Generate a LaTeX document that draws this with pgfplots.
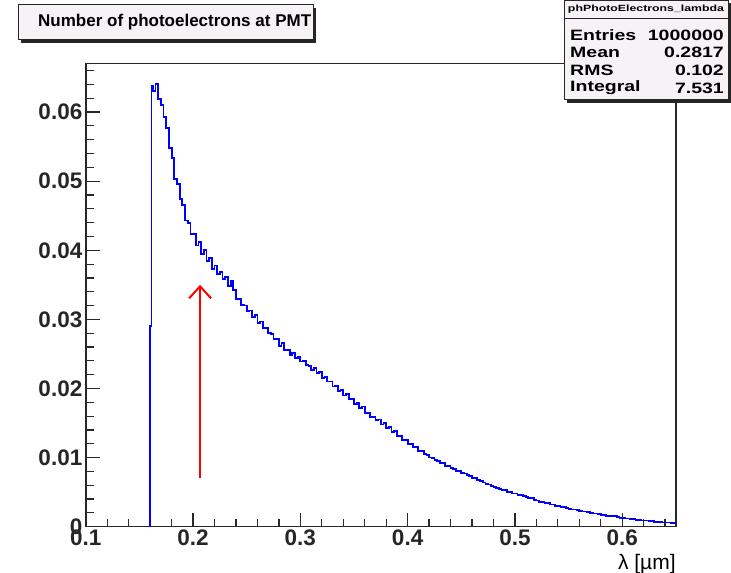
\documentclass[border=0pt]{standalone}
\usepackage{fontspec}
\setmainfont{Liberation Sans}
\usepackage{graphicx}
\usepackage{pgfplots}
\pgfplotsset{compat=1.18}
\usetikzlibrary{arrows.meta}
\definecolor{boxfill}{RGB}{246,242,246}
\definecolor{framecol}{RGB}{40,40,40}
\begin{document}
\begin{tikzpicture}[x=1pt,y=1pt]
\useasboundingbox (0,0) rectangle (731,573);
\begin{axis}[
  at={(80,67)}, anchor=south west,
  scale only axis, width=590pt, height=463pt,
  xmin=0.1, xmax=0.65, ymin=0, ymax=0.067,
  xtick={0.1,0.2,0.3,0.4,0.5,0.6},
  ytick={0,0.01,0.02,0.03,0.04,0.05,0.06},
  minor xtick={0.12,0.14,0.16,0.18,0.22,0.24,0.26,0.28,0.32,0.34,0.36,0.38,0.42,0.44,0.46,0.48,0.52,0.54,0.56,0.58,0.62,0.64},
  minor ytick={0.002,0.004,0.006,0.008,0.012,0.014,0.016,0.018,0.022,0.024,0.026,0.028,0.032,0.034,0.036,0.038,0.042,0.044,0.046,0.048,0.052,0.054,0.056,0.058,0.062,0.064,0.066},
  tick align=inside, xtick pos=bottom, ytick pos=left,
  major tick length=14pt, minor tick length=8pt,
  axis line style={line width=1.4pt, framecol},
  every tick/.style={line width=1.2pt, framecol},
  /pgf/number format/assume math mode=true,
  tick label style={font=\fontsize{22.5}{22.5}\selectfont\bfseries, text=black!85},
  scaled y ticks=false, scaled x ticks=false,
  yticklabel style={/pgf/number format/fixed, /pgf/number format/precision=2},
  xticklabel style={/pgf/number format/fixed, /pgf/number format/precision=1},
  xlabel={λ [µm]},
  xlabel style={font=\fontsize{21}{21}\selectfont, at={(rel axis cs:1,0)}, anchor=north east, yshift=-27pt, inner sep=0pt},
]
\addplot[const plot, blue, line width=1.8pt] table {
0.1600 0
0.1600 0.0290
0.1612 0.0638
0.1625 0.0630
0.1650 0.0641
0.1675 0.0619
0.1700 0.0610
0.1725 0.0593
0.1750 0.0577
0.1775 0.0548
0.1800 0.0533
0.1825 0.0503
0.1850 0.0496
0.1875 0.0474
0.1900 0.0466
0.1925 0.0443
0.1950 0.0440
0.1975 0.0424
0.2000 0.0424
0.2025 0.0407
0.2050 0.0412
0.2075 0.0395
0.2100 0.0400
0.2125 0.0384
0.2150 0.0389
0.2175 0.0373
0.2200 0.0378
0.2225 0.0366
0.2250 0.0368
0.2275 0.0358
0.2300 0.0361
0.2325 0.0348
0.2350 0.0355
0.2375 0.0343
0.2400 0.0329
0.2425 0.0330
0.2450 0.0321
0.2475 0.0320
0.2500 0.0312
0.2525 0.0313
0.2550 0.0304
0.2575 0.0306
0.2600 0.0295
0.2625 0.0297
0.2650 0.0288
0.2675 0.0287
0.2700 0.0280
0.2725 0.0279
0.2750 0.0272
0.2775 0.0272
0.2800 0.0262
0.2825 0.0266
0.2850 0.0256
0.2875 0.0256
0.2900 0.0249
0.2925 0.0251
0.2950 0.0244
0.2975 0.0246
0.3000 0.0239
0.3025 0.0240
0.3050 0.0234
0.3075 0.0233
0.3100 0.0227
0.3125 0.0230
0.3150 0.0222
0.3175 0.0224
0.3200 0.0215
0.3225 0.0217
0.3250 0.0210
0.3275 0.0210
0.3300 0.0203
0.3325 0.0204
0.3350 0.0196
0.3375 0.0198
0.3400 0.0190
0.3425 0.0192
0.3450 0.0184
0.3475 0.0185
0.3500 0.0178
0.3525 0.0179
0.3550 0.0172
0.3575 0.0174
0.3600 0.0165
0.3625 0.0165
0.3650 0.0159
0.3675 0.0159
0.3700 0.0154
0.3725 0.0155
0.3750 0.0148
0.3775 0.0150
0.3800 0.0143
0.3825 0.0144
0.3850 0.0137
0.3875 0.0138
0.3900 0.0131
0.3925 0.0131
0.3950 0.0126
0.3975 0.0126
0.4000 0.0120
0.4025 0.0120
0.4050 0.0115
0.4075 0.0115
0.4100 0.0110
0.4125 0.0110
0.4150 0.0105
0.4175 0.0104
0.4200 0.0100
0.4225 0.0099
0.4250 0.0096
0.4275 0.0095
0.4300 0.0092
0.4325 0.0092
0.4350 0.0088
0.4375 0.0088
0.4400 0.0085
0.4425 0.0084
0.4450 0.0081
0.4475 0.0081
0.4500 0.0078
0.4525 0.0077
0.4550 0.0075
0.4575 0.0073
0.4600 0.0071
0.4625 0.0070
0.4650 0.0067
0.4675 0.0066
0.4700 0.0064
0.4725 0.0062
0.4750 0.0061
0.4775 0.0059
0.4800 0.0058
0.4825 0.0056
0.4850 0.0055
0.4875 0.0053
0.4900 0.0053
0.4925 0.0050
0.4950 0.0050
0.4975 0.0048
0.5000 0.0048
0.5025 0.0046
0.5050 0.0046
0.5075 0.0044
0.5100 0.0043
0.5125 0.0041
0.5150 0.0041
0.5175 0.0039
0.5200 0.0038
0.5225 0.0036
0.5250 0.0036
0.5275 0.0034
0.5300 0.0034
0.5325 0.0032
0.5350 0.0032
0.5375 0.0030
0.5400 0.0030
0.5425 0.0028
0.5450 0.0028
0.5475 0.0027
0.5500 0.0026
0.5525 0.0025
0.5550 0.0025
0.5575 0.0024
0.5600 0.0023
0.5625 0.0022
0.5650 0.0022
0.5675 0.0021
0.5700 0.0020
0.5725 0.0019
0.5750 0.0019
0.5775 0.0018
0.5800 0.0017
0.5825 0.0017
0.5850 0.0016
0.5875 0.0016
0.5900 0.0015
0.5925 0.0015
0.5950 0.0014
0.5975 0.0013
0.6000 0.0013
0.6025 0.0012
0.6050 0.0012
0.6075 0.0011
0.6100 0.0011
0.6125 0.0010
0.6150 0.0010
0.6175 0.0009
0.6200 0.0009
0.6225 0.0009
0.6250 0.0008
0.6275 0.0008
0.6300 0.0007
0.6325 0.0007
0.6350 0.0007
0.6375 0.0006
0.6400 0.0006
0.6425 0.0006
0.6450 0.0005
0.6475 0.0005
0.6500 0.0005
};
\draw[red, line width=2.2pt, -{Straight Barb[length=12pt, width=22pt, line width=2pt]}] (axis cs:0.2065,0.0071) -- (axis cs:0.2065,0.0350);
\end{axis}
% title box
\fill[black!85] (21,530) rectangle (316,565);
\draw[fill=boxfill, line width=1pt, draw=black!85] (18,533) rectangle (313,568);
\node[anchor=west, inner sep=0pt, font=\fontsize{17}{17}\selectfont\bfseries] at (38,550.5) {Number of photoelectrons at PMT};
% stats box
\fill[black!85] (567,470) rectangle (731,570);
\draw[fill=boxfill, line width=1pt, draw=black!85] (564,473) rectangle (728,572.5);
\draw[line width=0.8pt, black!85] (564,555) -- (728,555);
\node[inner sep=0pt] at (646,564) {\resizebox{156pt}{6.5pt}{\bfseries phPhotoElectrons\_lambda}};
\begin{scope}[every node/.style={inner sep=0pt, font=\fontsize{15}{15}\selectfont\bfseries}]
\node[anchor=west] at (570,538) {\scalebox{1.3}[1]{Entries}};
\node[anchor=east] at (724,538) {\scalebox{1.3}[1]{1000000}};
\node[anchor=west] at (570,521) {\scalebox{1.3}[1]{Mean}};
\node[anchor=east] at (724,521) {\scalebox{1.3}[1]{0.2817}};
\node[anchor=west] at (570,503) {\scalebox{1.3}[1]{RMS}};
\node[anchor=east] at (724,503) {\scalebox{1.3}[1]{0.102}};
\node[anchor=west] at (570,485) {\scalebox{1.3}[1]{Integral}};
\node[anchor=east] at (724,485) {\scalebox{1.3}[1]{7.531}};
\end{scope}
\end{tikzpicture}
\end{document}
